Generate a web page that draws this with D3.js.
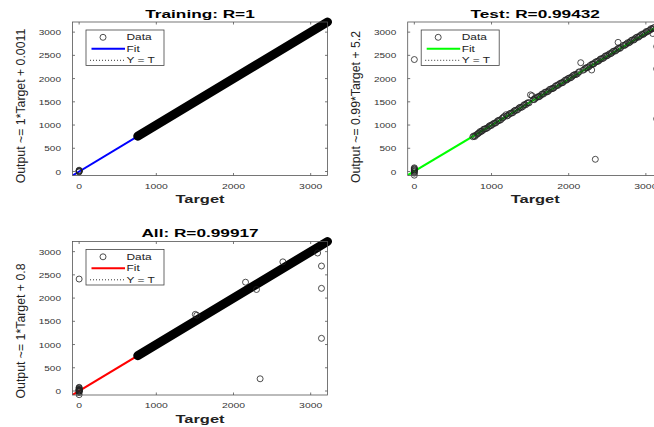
<!DOCTYPE html>
<html><head><meta charset="utf-8">
<script src="https://cdn.jsdelivr.net/npm/d3@7"></script>
<style>body{margin:0;background:#fff}svg{display:block}</style>
</head><body>
<svg id="c" width="654" height="427"></svg>
<script>
// ---------- data ----------
const limits = [-86, 3218];
const xTicks = [0, 1000, 2000, 3000];
const yTicks = [0, 500, 1000, 1500, 2000, 2500, 3000];
const legendLabels = ["Data", "Fit", "Y = T"];

// dense band of training markers (target range, output ~= target)
const trainBand = [760, 3218];
const trainCluster = [[0,-8],[0,0],[0,8],[0,18],[0,28]];

const testCluster = [[0,-79],[0,-35],[0,-10],[0,5],[0,20],[0,35],[0,50],[0,65],[0,80]];
const testChain = [
 [758,748],[770,765],[782,752],[795,778],[812,800],[838,832],[866,861],[893,902],[921,918],
 [955,949],[984,990],[1012,1015],[1046,1040],[1077,1086],[1103,1098],[1139,1148],[1166,1188],
 [1188,1222],[1215,1210],[1248,1256],[1279,1270],[1306,1318],[1342,1334],[1368,1381],[1402,1393],
 [1428,1442],[1459,1468],[1487,1478],[1541,1548],[1566,1572],[1603,1611],[1628,1622],[1659,1668],
 [1688,1702],[1722,1714],[1749,1762],[1783,1781],[1808,1800],[1842,1853],[1869,1872],[1903,1908],
 [1927,1918],[1962,1972],[1988,1996],[2021,2013],[2053,2062],[2078,2086],[2112,2101],[2139,2148],
 [2203,2196],[2228,2233],[2262,2254],[2302,2312],[2328,2322],[2362,2368],[2391,2383],[2418,2427],
 [2452,2441],[2481,2492],[2508,2503],[2543,2536],[2568,2578],[2602,2591],[2633,2637],[2661,2648],
 [2722,2712],[2748,2747],[2783,2771],[2808,2817],[2843,2829],[2868,2876],[2902,2889],[2928,2927],
 [2963,2948],[2991,2987],[3018,3008],[3052,3041],[3078,3068],[3112,3101]
];
const testChainExtra = [
 [826,818],[851,860],[879,874],[907,915],[938,931],[970,978],[998,991],[1030,1037],[1061,1055],
 [1090,1101],[1121,1114],[1152,1163],[1201,1195],[1232,1240],[1263,1256],[1292,1301],[1324,1317],
 [1355,1364],[1385,1379],[1415,1424],[1444,1436],[1473,1482],[1553,1546],[1584,1592],[1616,1609],
 [1645,1654],[1673,1667],[1705,1712],[1736,1729],[1766,1775],[1796,1789],[1825,1834],[1856,1849],
 [1886,1894],[1915,1909],[1945,1954],[1975,1968],[2005,2013],[2037,2030],[2066,2074],[2095,2088],
 [2126,2134],[2185,2179],[2215,2222],[2245,2238],[2277,2284],[2315,2309],[2345,2353],[2376,2369],
 [2405,2413],[2436,2429],[2466,2474],[2494,2487],[2526,2533],[2556,2548],[2585,2593],[2617,2610],
 [2647,2655],[2676,2669],[2706,2714],[2735,2728],[2765,2773],[2796,2788],[2825,2833],[2856,2848],
 [2885,2893],[2915,2908],[2946,2954],[2976,2968],[3005,3013],[3035,3027],[3065,3073],[3095,3088]
];
const testOutliers = [[0,2410],[1505,1650],[1525,1630],[2156,2342],[2298,2185],[2345,263],
 [2640,2780],[3090,2970],[3140,2690],[3140,2210],[3140,1134]];

const panels = [
  {title:"Training: R=1", ylabel:"Output ~= 1*Target + 0.0011", fit:[1, 0.0011], color:"#0000ff",
   band:trainBand, points:trainCluster, ox:72.5, oy:22, lcy:106},
  {title:"Test: R=0.99432", ylabel:"Output ~= 0.99*Target + 5.2", fit:[0.99, 5.2], color:"#00ff00",
   band:null, points:testCluster.concat(testChain, testChainExtra, testOutliers), ox:407.7, oy:22, lcy:107},
  {title:"All: R=0.99917", ylabel:"Output ~= 1*Target + 0.8", fit:[1, 0.8], color:"#ff0000",
   band:trainBand, points:trainCluster.concat(testCluster, testOutliers), ox:72.5, oy:241.5, lcy:331}
];

// ---------- drawing ----------
const W = 255, H = 153.5;
const FONT = "'Liberation Sans', Arial, Helvetica, sans-serif";
const svg = d3.select("#c");

function txt(g, x, y, s, o) {
  return g.append("text")
    .attr("transform", `translate(${x},${y}) scale(${o.sx||1},1)` + (o.rot ? " rotate(-90)" : ""))
    .attr("text-anchor", o.anchor || "middle")
    .style("font-family", FONT)
    .style("font-size", (o.size||8) + "px")
    .style("font-weight", o.weight || "normal")
    .attr("fill", o.fill || "#000")
    .text(s);
}

panels.forEach((p, i) => {
  const g = svg.append("g").attr("transform", `translate(${p.ox},${p.oy})`);
  const x = d3.scaleLinear().domain(limits).range([0, W]);
  const y = d3.scaleLinear().domain(limits).range([H, 0]);

  g.append("rect").attr("width", W).attr("height", H).attr("fill", "#fff");

  const clipId = "clip" + i;
  g.append("clipPath").attr("id", clipId).append("rect").attr("width", W).attr("height", H);

  // Y = T dotted
  g.append("line").attr("clip-path", `url(#${clipId})`)
    .attr("x1", x(limits[0])).attr("y1", y(limits[0]))
    .attr("x2", x(limits[1])).attr("y2", y(limits[1]))
    .attr("stroke", "#000").attr("stroke-width", 0.8).attr("stroke-dasharray", "1,2");

  // fit line
  g.append("line").attr("clip-path", `url(#${clipId})`)
    .attr("x1", x(limits[0])).attr("y1", y(p.fit[0]*limits[0] + p.fit[1]))
    .attr("x2", x(limits[1])).attr("y2", y(p.fit[0]*limits[1] + p.fit[1]))
    .attr("stroke", p.color).attr("stroke-width", 2);

  // dense marker band
  if (p.band) {
    g.append("line")
      .attr("x1", x(p.band[0])).attr("y1", y(p.band[0]))
      .attr("x2", x(p.band[1])).attr("y2", y(p.band[1]))
      .attr("stroke", "#000").attr("stroke-width", 9).attr("stroke-linecap", "round");
  }

  // data markers
  g.selectAll("circle.d").data(p.points).join("circle").attr("class", "d")
    .attr("cx", d => x(d[0])).attr("cy", d => y(d[1])).attr("r", 3)
    .attr("fill", "none").attr("stroke", "#222").attr("stroke-width", 0.8);

  // box + ticks
  const axc = "#555";
  g.append("rect").attr("width", W).attr("height", H).attr("fill", "none")
    .attr("stroke", axc).attr("stroke-width", 0.8);
  const tl = 2.5;
  xTicks.forEach(t => {
    g.append("line").attr("x1", x(t)).attr("x2", x(t)).attr("y1", H).attr("y2", H - tl).attr("stroke", axc).attr("stroke-width", 0.8);
    g.append("line").attr("x1", x(t)).attr("x2", x(t)).attr("y1", 0).attr("y2", tl).attr("stroke", axc).attr("stroke-width", 0.8);
    txt(g, x(t), H + 13, String(t), {size: 8, sx: 1.3, fill: "#333"});
  });
  yTicks.forEach(t => {
    g.append("line").attr("x1", 0).attr("x2", tl).attr("y1", y(t)).attr("y2", y(t)).attr("stroke", axc).attr("stroke-width", 0.8);
    g.append("line").attr("x1", W).attr("x2", W - tl).attr("y1", y(t)).attr("y2", y(t)).attr("stroke", axc).attr("stroke-width", 0.8);
    txt(g, -11.5, y(t) + 3, String(t), {size: 8, sx: 1.25, anchor: "end", fill: "#333"});
  });

  // title & labels
  txt(g, W/2, -4.5, p.title, {size: 10.5, weight: "bold", sx: 1.64});
  txt(g, W/2, H + 27.5, "Target", {size: 10.5, weight: "bold", sx: 1.57, fill: "#222"});
  txt(g, 20.7 - 72.5 + 4.3, p.lcy - p.oy, p.ylabel, {size: 12.3, sx: 1.05, rot: true, fill: "#222"});

  // legend
  const lg = g.append("g").attr("transform", "translate(13.5,8)");
  lg.append("rect").attr("width", 78).attr("height", 35.5).attr("fill", "#fff")
    .attr("stroke", "#444").attr("stroke-width", 0.8);
  const rows = [7.3, 18.7, 30.3];
  lg.append("circle").attr("cx", 17).attr("cy", rows[0]).attr("r", 3)
    .attr("fill", "none").attr("stroke", "#222").attr("stroke-width", 0.8);
  lg.append("line").attr("x1", 5.5).attr("x2", 39).attr("y1", rows[1]).attr("y2", rows[1])
    .attr("stroke", p.color).attr("stroke-width", 2);
  lg.append("line").attr("x1", 4).attr("x2", 38).attr("y1", rows[2]).attr("y2", rows[2])
    .attr("stroke", "#000").attr("stroke-width", 0.8).attr("stroke-dasharray", "1,2");
  legendLabels.forEach((s, k) => txt(lg, 40.5, rows[k] + 3, s, {size: 8.5, sx: 1.4, anchor: "start", fill: "#222"}));
});
</script>
</body></html>
